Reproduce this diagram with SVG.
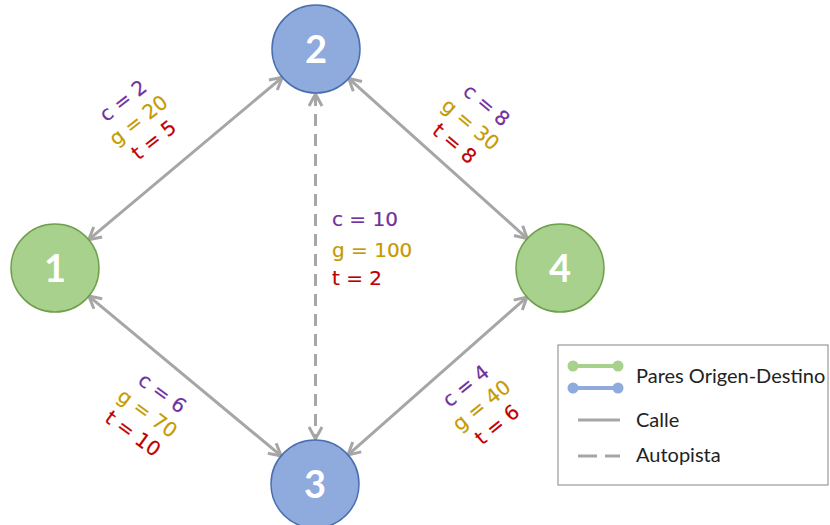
<svg xmlns="http://www.w3.org/2000/svg" width="830" height="525" viewBox="0 0 830 525">
<style>
.edge{stroke:#A6A6A6;stroke-width:3;fill:none}
.dash{stroke-dasharray:12,8}
.lbl{font-family:"DejaVu Sans",sans-serif;font-size:20px;text-anchor:middle;stroke-width:0.2}
.mid{font-family:"DejaVu Sans",sans-serif;font-size:20px;stroke-width:0.2}
.c{fill:#7030A0;stroke:#7030A0}.g{fill:#C59A00;stroke:#C59A00}.t{fill:#C00000;stroke:#C00000}
.num{font-family:Lato,"Open Sans",sans-serif;font-size:38px;font-weight:bold;fill:#fff;text-anchor:middle}
.green{fill:#A9D18E;stroke:#6FA04B;stroke-width:1.5}
.blue{fill:#8FAADC;stroke:#4A6FB0;stroke-width:1.5}
.leg{font-family:Lato,"Open Sans",sans-serif;font-size:20px;fill:#222}
</style>
<defs>
<marker id="arr" viewBox="0 0 16 16" refX="14" refY="8" markerWidth="16" markerHeight="16" markerUnits="userSpaceOnUse" orient="auto-start-reverse">
<path d="M2,1.5 L14,8 L2,14.5" fill="none" stroke="#A6A6A6" stroke-width="3"/>
</marker>
</defs>
<rect width="830" height="525" fill="#fff"/>
<g id="connectors">
<line class="edge" x1="88.7" y1="239.7" x2="282.3" y2="77.3" marker-start="url(#arr)" marker-end="url(#arr)"/>
<line class="edge" x1="348.7" y1="78.4" x2="527.3" y2="238.6" marker-start="url(#arr)" marker-end="url(#arr)"/>
<line class="edge" x1="88.8" y1="296.1" x2="281.2" y2="455.9" marker-start="url(#arr)" marker-end="url(#arr)"/>
<line class="edge" x1="348" y1="454.9" x2="527" y2="297.1" marker-start="url(#arr)" marker-end="url(#arr)"/>
<line class="edge dash" x1="315.5" y1="94" x2="315.5" y2="439" marker-start="url(#arr)" marker-end="url(#arr)"/>
</g>
<g id="labels">
<g transform="translate(139,121) rotate(-38)">
<text class="lbl c" x="0" y="-19">c = 2</text>
<text class="lbl g" x="0" y="6">g = 20</text>
<text class="lbl t" x="0" y="31">t = 5</text>
</g>
<g transform="translate(470,125) rotate(40)">
<text class="lbl c" x="0" y="-19">c = 8</text>
<text class="lbl g" x="0" y="6">g = 30</text>
<text class="lbl t" x="0" y="31">t = 8</text>
</g>
<g transform="translate(147,414) rotate(36)">
<text class="lbl c" x="0" y="-19">c = 6</text>
<text class="lbl g" x="0" y="6">g = 70</text>
<text class="lbl t" x="0" y="31">t = 10</text>
</g>
<g transform="translate(482,406) rotate(-39)">
<text class="lbl c" x="0" y="-19">c = 4</text>
<text class="lbl g" x="0" y="6">g = 40</text>
<text class="lbl t" x="0" y="31">t = 6</text>
</g>
<g id="label-2-3">
<text class="mid c" x="332" y="226">c = 10</text>
<text class="mid g" x="332" y="257">g = 100</text>
<text class="mid t" x="332" y="285">t = 2</text>
</g>
</g>
<g id="node1"><circle class="green" cx="55" cy="268" r="44"/><text class="num" x="55" y="282">1</text></g>
<g id="node2"><circle class="blue" cx="316" cy="49" r="44"/><text class="num" x="316" y="63">2</text></g>
<g id="node3"><circle class="blue" cx="315" cy="484" r="44"/><text class="num" x="315" y="498">3</text></g>
<g id="node4"><circle class="green" cx="560" cy="268" r="44"/><text class="num" x="560" y="282">4</text></g>
<g id="legend">
<rect x="558" y="345" width="270" height="140" fill="#fff" stroke="#999" stroke-width="1.2"/>
<line x1="573" y1="366" x2="618" y2="366" stroke="#A9D18E" stroke-width="4"/>
<circle cx="573" cy="366" r="5.5" fill="#A9D18E"/><circle cx="618" cy="366" r="5.5" fill="#A9D18E"/>
<line x1="573" y1="388" x2="618" y2="388" stroke="#8FAADC" stroke-width="4"/>
<circle cx="573" cy="388" r="5.5" fill="#8FAADC"/><circle cx="618" cy="388" r="5.5" fill="#8FAADC"/>
<text class="leg" x="636" y="383">Pares Origen-Destino</text>
<line x1="578" y1="420" x2="620" y2="420" stroke="#A6A6A6" stroke-width="3"/>
<text class="leg" x="636" y="427">Calle</text>
<line x1="578" y1="456" x2="620" y2="456" stroke="#A6A6A6" stroke-width="3" stroke-dasharray="19,8"/>
<text class="leg" x="636" y="462">Autopista</text>
</g>
</svg>
